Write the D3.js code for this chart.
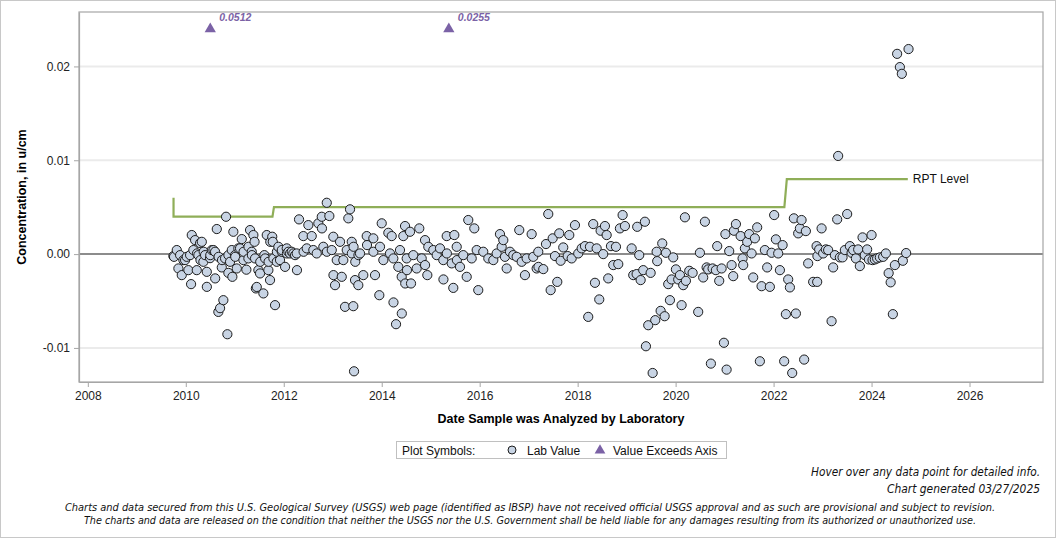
<!DOCTYPE html>
<html><head><meta charset="utf-8">
<script src="https://cdn.jsdelivr.net/npm/d3@7"></script>
<style>body{margin:0;background:#fff}svg{display:block}</style>
</head><body><svg id="c" width="1056" height="538"></svg>
<script>
// ---------- data ----------
const xTicks = [2008, 2010, 2012, 2014, 2016, 2018, 2020, 2022, 2024, 2026];
const yTicks = [-0.01, 0, 0.01, 0.02];
const xDomain = [2007.82, 2027.5];
const yDomain = [-0.01363, 0.0258];
const rptDates  = [2009.75, 2009.75, 2011.77, 2011.80, 2022.22, 2022.27, 2024.74];
const rptValues = [0.006, 0.004, 0.004, 0.005, 0.005, 0.008, 0.008];
const exceedDates  = [2010.50, 2015.37];
const exceedValues = [0.0512, 0.0255];
const axisCapValue = 0.0241;
const labSamples = [
[2009.747,-0.00021],[2009.76,-0.00029],[2009.816,0.00043],[2009.849,-0.00153],[2009.884,-0.00011],[2009.918,-0.00224],[2009.951,-0.00064],[2009.986,-0.00064],[2010.020,-0.00029],[2010.053,-0.00171],
[2010.088,-0.00011],[2010.108,-0.0032],[2010.122,0.00203],[2010.155,0.00043],[2010.190,0.00149],[2010.224,-0.00171],[2010.23,0.00007],[2010.257,-0.00011],[2010.292,0.00117],[2010.30,-0.00064],
[2010.327,0.00131],[2010.359,-0.00082],[2010.365,0.00025],[2010.394,-0.00011],[2010.429,-0.00189],[2010.43,-0.00349],[2010.496,-0.00043],[2010.50,-0.00011],[2010.531,0.00043],[2010.565,0.00043],
[2010.598,0.00025],[2010.60,-0.00259],[2010.633,0.00267],[2010.665,-0.00616],[2010.67,-0.00029],[2010.700,-0.00576],[2010.735,-0.00142],[2010.74,-0.00064],[2010.767,-0.00491],[2010.802,-0.00046],
[2010.822,0.00398],[2010.849,-0.00854],[2010.869,-0.002],[2010.87,-0.00011],[2010.904,-0.00082],[2010.939,0.00043],[2010.951,-0.00242],[2010.971,0.00238],[2011.006,-0.00011],[2011.01,-0.00029],
[2011.041,-0.00153],[2011.073,0.00061],[2011.108,0.00061],[2011.143,0.0016],[2011.176,-0.00064],[2011.18,0.00025],[2011.237,-0.00166],[2011.278,-0.00046],[2011.28,0.00078],[2011.312,0.00256],
[2011.347,0.00025],[2011.35,-0.00011],[2011.380,0.00203],[2011.404,0.00131],[2011.414,-0.00046],[2011.431,-0.00366],[2011.449,-0.0035],[2011.482,-0.00171],[2011.516,-0.00206],[2011.52,-0.00082],
[2011.584,-0.00419],[2011.604,-0.00011],[2011.62,-0.00046],[2011.653,0.00203],[2011.686,-0.00171],[2011.69,-0.00082],[2011.720,-0.00277],[2011.725,0.00131],[2011.765,0.00185],[2011.776,0.00131],
[2011.788,-0.00046],[2011.822,-0.00544],[2011.857,-0.00082],[2011.86,0.00025],[2011.890,0.00078],[2011.924,-0.00064],[2011.959,0.00025],[2011.96,0.00043],[2012.027,-0.00136],[2012.061,0.00061],
[2012.065,0.00007],[2012.094,0.00025],[2012.129,0.00007],[2012.163,0.00025],[2012.196,0.00007],[2012.231,-0.00011],[2012.265,0.00007],[2012.27,-0.00171],[2012.312,0.0037],[2012.40,0.00192],
[2012.405,0.00025],[2012.469,0.00061],[2012.502,0.00309],[2012.571,0.00192],[2012.604,0.00043],[2012.673,0.00007],[2012.706,0.00328],[2012.776,0.00398],[2012.78,0.00274],[2012.808,0.00078],
[2012.878,0.00547],[2012.88,0.00025],[2012.931,0.00406],[2012.980,0.00043],[2013.012,0.00185],[2013.015,-0.00224],[2013.047,-0.00331],[2013.082,-0.00064],[2013.149,0.00131],[2013.184,-0.00242],
[2013.216,-0.00064],[2013.251,-0.00562],[2013.286,0.00043],[2013.318,0.00381],[2013.353,0.00477],[2013.388,0.00131],[2013.39,0.00007],[2013.420,-0.00555],[2013.425,0.00078],[2013.435,-0.01249],
[2013.455,-0.00277],[2013.46,-0.00082],[2013.522,-0.00331],[2013.525,-0.00011],[2013.557,0.00007],[2013.624,-0.00224],[2013.694,0.00192],[2013.70,0.00096],[2013.829,0.00168],[2013.83,0.00025],
[2013.863,-0.00224],[2013.951,-0.00438],[2013.965,0.00078],[2014.0,0.00328],[2014.033,-0.00064],[2014.135,0.00227],[2014.169,0.00007],[2014.204,0.00192],[2014.237,-0.00046],[2014.24,-0.00515],
[2014.292,-0.00747],[2014.339,-0.00136],[2014.373,0.00043],[2014.408,-0.00242],[2014.41,-0.00633],[2014.441,0.00192],[2014.476,0.00299],[2014.48,-0.00313],[2014.510,-0.00046],[2014.515,-0.00171],
[2014.578,0.00238],[2014.598,-0.00313],[2014.645,-0.00011],[2014.714,-0.00153],[2014.767,0.00274],[2014.816,-0.00046],[2014.884,0.00149],[2014.885,-0.00117],[2014.931,-0.00224],[2014.951,0.00078],
[2015.053,0.00043],[2015.122,-0.00011],[2015.190,0.00061],[2015.257,-0.00064],[2015.26,-0.0027],[2015.327,0.00192],[2015.33,0.00007],[2015.429,-0.00099],[2015.461,-0.0036],[2015.482,0.00203],
[2015.531,0.00078],[2015.535,-0.00064],[2015.598,-0.00136],[2015.665,-0.00011],[2015.735,-0.00242],[2015.767,0.00363],[2015.837,-0.00046],[2015.890,0.00274],[2015.939,0.00043],[2015.971,-0.00384],
[2016.073,0.00025],[2016.176,-0.00046],[2016.278,-0.00064],[2016.347,0.00007],[2016.414,0.00213],[2016.449,0.00078],[2016.482,0.00149],[2016.516,-0.00029],[2016.551,-0.00153],[2016.618,0.00025],
[2016.686,-0.00011],[2016.755,-0.00029],[2016.808,0.00256],[2016.857,-0.00082],[2016.924,-0.00224],[2016.959,-0.00046],[2017.061,0.00213],[2017.094,-0.00029],[2017.163,-0.00153],[2017.196,0.00025],
[2017.20,-0.00136],[2017.298,-0.0016],[2017.353,0.00107],[2017.4,0.00427],[2017.449,-0.00384],[2017.490,0.00168],[2017.537,-0.00021],[2017.584,-0.00296],[2017.624,0.00221],[2017.653,-0.00071],
[2017.706,0.00071],[2017.796,-0.00021],[2017.829,0.00203],[2017.878,-0.00046],[2017.945,0.00309],[2018.012,0.00007],[2018.082,0.00061],[2018.149,0.00085],[2018.216,-0.00669],[2018.251,0.00078],
[2018.318,0.0032],[2018.353,-0.00306],[2018.388,0.00061],[2018.441,-0.00483],[2018.469,0.00249],[2018.522,0],[2018.557,0.00299],[2018.592,0.00203],[2018.624,-0.00259],[2018.680,0.00085],
[2018.727,-0.00117],[2018.782,0.00078],[2018.829,-0.00107],[2018.863,0.00274],[2018.918,0.00416],[2018.965,0.00299],[2019.102,0.00061],[2019.135,-0.00224],[2019.204,-0.00213],[2019.216,0.00291],
[2019.257,-0.00011],[2019.286,-0.00277],[2019.339,-0.00171],[2019.373,0.00345],[2019.394,-0.00982],[2019.441,-0.00758],[2019.49,-0.002],[2019.531,-0.01267],[2019.584,-0.00704],[2019.612,0.00025],
[2019.624,-0.00075],[2019.694,-0.00605],[2019.727,0.00114],[2019.776,-0.00662],[2019.802,0.00014],[2019.849,-0.0032],[2019.884,-0.00491],[2019.918,-0.0027],[2019.951,-0.00035],[2020.006,-0.00163],
[2020.053,-0.0027],[2020.088,-0.00224],[2020.122,-0.00544],[2020.155,-0.00331],[2020.190,0.00392],[2020.210,-0.00285],[2020.278,-0.00178],[2020.347,-0.002],[2020.461,-0.00616],[2020.496,0.00014],
[2020.563,-0.00249],[2020.598,0.00345],[2020.633,-0.00142],[2020.665,-0.00163],[2020.720,-0.01167],[2020.755,-0.00153],[2020.822,-0.00171],[2020.849,0.00085],[2020.890,-0.00285],[2020.939,-0.00153],
[2020.986,-0.00945],[2021.016,0.00213],[2021.041,-0.01231],[2021.094,0.00032],[2021.143,-0.00117],[2021.176,-0.00235],[2021.190,0.00249],[2021.231,0.0032],[2021.327,0.00192],[2021.367,-0.00046],
[2021.380,-0.00117],[2021.414,0.00061],[2021.461,0.00131],[2021.502,0.00213],[2021.551,0.00007],[2021.584,-0.00249],[2021.618,0.00168],[2021.665,0.00285],[2021.720,-0.01142],[2021.755,-0.00342],
[2021.822,0.00043],[2021.869,-0.00142],[2021.924,-0.00349],[2021.959,0.00014],[2022.012,0.00416],[2022.047,0.00157],[2022.094,0.00007],[2022.129,-0.00171],[2022.184,0.00096],[2022.216,-0.01142],
[2022.251,-0.0064],[2022.298,-0.0027],[2022.333,-0.00355],[2022.380,-0.01267],[2022.414,0.00381],[2022.455,-0.00633],[2022.502,0.00221],[2022.537,0.00274],[2022.571,0.00363],[2022.624,-0.01124],
[2022.659,0.00245],[2022.706,-0.00099],[2022.808,-0.00296],[2022.878,0.00085],[2022.890,-0.00296],[2022.895,-0.00021],[2022.931,0.0005],[2022.980,0.00274],[2023.012,0.00007],[2023.067,0.0005],
[2023.114,0.00043],[2023.184,-0.00715],[2023.216,-0.00142],[2023.251,-0.00011],[2023.298,0.0037],[2023.318,0.01046],[2023.353,-0.00035],[2023.408,-0.00035],[2023.455,0.00043],[2023.502,0.00427],
[2023.557,0.00085],[2023.592,0.00014],[2023.624,0.00043],[2023.680,-0.00046],[2023.727,0.0005],[2023.761,-0.00128],[2023.816,0.00178],[2023.863,-0.00011],[2023.910,0.0005],[2023.945,-0.00057],
[2024.0,0.00203],[2024.020,-0.00064],[2024.067,-0.00057],[2024.114,-0.00046],[2024.169,-0.00035],[2024.237,-0.00029],[2024.292,0.00007],[2024.349,-0.00203],[2024.390,-0.00301],[2024.435,-0.0064],
[2024.476,-0.00117],[2024.522,0.02134],[2024.578,0.01993],[2024.618,0.01921],[2024.639,-0.00071],[2024.706,0.00011],[2024.755,0.02185]
];
const footerRight = ["Hover over any data point for detailed info.", "Chart generated 03/27/2025"];
const disclaimer = [
 "Charts and data secured from this U.S. Geological Survey (USGS) web page (identified as IBSP) have not received official USGS approval and as such are provisional and subject to revision.",
 "The charts and data are released on the condition that neither the USGS nor the U.S. Government shall be held liable for any damages resulting from its authorized or unauthorized use."
];

// ---------- drawing ----------
const svg = d3.select("#c");
const W = 1056, H = 538;
const L = 79, R = 1043, T = 12, B = 382;
const FONT = "'Liberation Sans', Arial, Helvetica, sans-serif";
const NARROW = "'Liberation Sans Narrow', 'Arial Narrow', 'DejaVu Sans Condensed', 'Liberation Sans', sans-serif";
const PURPLE = "#7b62a6";

svg.append("rect").attr("x", 0.5).attr("y", 0.5).attr("width", W - 1).attr("height", H - 1)
  .attr("fill", "#fff").attr("stroke", "#c8c8c8");

const x = d3.scaleLinear().domain(xDomain).range([L, R]);
const y = d3.scaleLinear().domain(yDomain).range([B, T]);

// gridlines
svg.append("g").selectAll("line").data(yTicks.filter(d => d !== 0)).join("line")
  .attr("x1", L).attr("x2", R).attr("y1", d => y(d)).attr("y2", d => y(d))
  .attr("stroke", "#ebebeb").attr("stroke-width", 2);

// zero reference line
svg.append("line").attr("x1", L).attr("x2", R).attr("y1", y(0)).attr("y2", y(0))
  .attr("stroke", "#8c8c8c").attr("stroke-width", 2);

// frame
svg.append("rect").attr("x", L).attr("y", T).attr("width", R - L).attr("height", B - T)
  .attr("fill", "none").attr("stroke", "#a6a6a6").attr("stroke-width", 1.2);

// axes
const fmtY = d => d3.format(".2f")(d).replace("\u2212", "-");
const gx = svg.append("g").attr("transform", `translate(0,${B})`)
  .call(d3.axisBottom(x).tickValues(xTicks).tickFormat(d3.format("d")).tickSize(5).tickSizeOuter(0).tickPadding(4));
const gy = svg.append("g").attr("transform", `translate(${L},0)`)
  .call(d3.axisLeft(y).tickValues(yTicks).tickFormat(fmtY).tickSize(5).tickSizeOuter(0).tickPadding(4));
[gx, gy].forEach(g => {
  g.select(".domain").attr("stroke", "#a6a6a6").attr("stroke-width", 1.2);
  g.selectAll(".tick line").attr("stroke", "#a6a6a6");
  g.selectAll(".tick text").attr("fill", "#222").style("font", `12px ${FONT}`);
});

// axis titles
svg.append("text").attr("x", (L + R) / 2).attr("y", 423).attr("text-anchor", "middle")
  .style("font", `bold 12.5px ${FONT}`).attr("fill", "#000").text("Date Sample was Analyzed by Laboratory");
svg.append("text").attr("transform", `translate(26,${(T + B) / 2}) rotate(-90)`).attr("text-anchor", "middle")
  .style("font", `bold 12.5px ${FONT}`).attr("fill", "#000").text("Concentration, in u/cm");

// RPT level line
const rpt = rptDates.map((d, i) => [d, rptValues[i]]);
svg.append("path").datum(rpt)
  .attr("d", d3.line().x(d => x(d[0])).y(d => y(d[1])))
  .attr("fill", "none").attr("stroke", "#8fae58").attr("stroke-width", 2.2);
svg.append("text").attr("x", x(rptDates[rptDates.length - 1]) + 5).attr("y", y(rptValues[rptValues.length - 1]))
  .attr("dy", "0.35em").style("font", `12px ${FONT}`).attr("fill", "#111").text("RPT Level");

// lab values
svg.append("g").selectAll("circle").data(labSamples).join("circle")
  .attr("cx", d => x(d[0])).attr("cy", d => y(d[1])).attr("r", 4.6)
  .attr("fill", "#c8d4e4").attr("stroke", "#1c1c1c").attr("stroke-width", 1);

// exceedance triangles
const tri = d3.symbol().type(d3.symbolTriangle).size(55);
const ex = exceedDates.map((d, i) => ({date: d, value: exceedValues[i]}));
const gEx = svg.append("g");
gEx.selectAll("path").data(ex).join("path")
  .attr("transform", d => `translate(${x(d.date)},${y(axisCapValue) + 1})`)
  .attr("d", tri).attr("fill", PURPLE);
gEx.selectAll("text").data(ex).join("text")
  .attr("x", d => x(d.date) + 9).attr("y", y(axisCapValue) - 7)
  .style("font", `italic bold 10.5px ${FONT}`).attr("fill", PURPLE)
  .text(d => d.value.toFixed(4));

// legend
const lg = svg.append("g");
lg.append("rect").attr("x", 396.5).attr("y", 441.5).attr("width", 330).attr("height", 17)
  .attr("fill", "#fff").attr("stroke", "#c0c0c0");
lg.append("text").attr("x", 402).attr("y", 454.5).style("font", `12px ${FONT}`).attr("fill", "#111").text("Plot Symbols:");
lg.append("circle").attr("cx", 512).attr("cy", 450).attr("r", 4).attr("fill", "#c8d4e4").attr("stroke", "#1c1c1c");
lg.append("text").attr("x", 527).attr("y", 454.5).style("font", `12px ${FONT}`).attr("fill", "#111").text("Lab Value");
lg.append("path").attr("transform", "translate(600,450.5)").attr("d", d3.symbol().type(d3.symbolTriangle).size(50)).attr("fill", PURPLE);
lg.append("text").attr("x", 613).attr("y", 454.5).style("font", `12px ${FONT}`).attr("fill", "#111").text("Value Exceeds Axis");

// footer
const fr = [[811, 476, 229], [887, 493, 153]];
footerRight.forEach((t, i) => {
  svg.append("text").attr("x", fr[i][0]).attr("y", fr[i][1])
    .attr("textLength", fr[i][2]).attr("lengthAdjust", "spacingAndGlyphs")
    .style("font", `italic 12px ${NARROW}`).attr("fill", "#111").text(t);
});
const dl = [[65, 511, 930], [84, 524, 892]];
disclaimer.forEach((t, i) => {
  svg.append("text").attr("x", dl[i][0]).attr("y", dl[i][1])
    .attr("textLength", dl[i][2]).attr("lengthAdjust", "spacingAndGlyphs")
    .style("font", `italic 11px ${NARROW}`).attr("fill", "#111").text(t);
});
</script></body></html>
